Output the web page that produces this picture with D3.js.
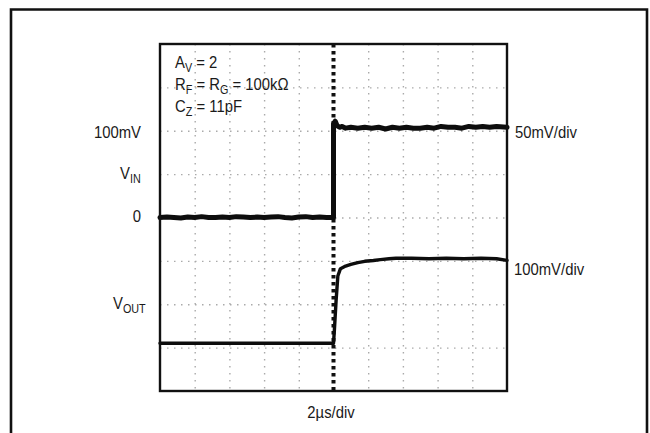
<!DOCTYPE html>
<html>
<head>
<meta charset="utf-8">
<script src="https://cdn.jsdelivr.net/npm/d3@7"></script>
<style>
  html, body { margin: 0; padding: 0; background: #fff; }
  svg { display: block; }
  text { font-family: "Liberation Sans Narrow", "Arial Narrow", "Liberation Sans", sans-serif; fill: #1a1a1a; }
  .grid line { stroke: #aaa; stroke-width: 1.4; stroke-dasharray: 1.5 5.5; }
  .grid path { display: none; }
</style>
</head>
<body>
<svg id="chart"></svg>
<script>
// Scope capture: step response, VIN (50mV/div) and VOUT (100mV/div), 2us/div.

const W = 650, H = 433;
const P = { left: 160, top: 44, width: 347, height: 347 };

// time axis in microseconds, 10 divisions of 2us, trigger at 0
const X_DOMAIN = [-10, 10];
const X_GRID = [-8, -6, -4, -2, 2, 4, 6, 8];
const Y_DIVS = 8;
const Y_GRID = [1, 2, 3, 4, 5, 6, 7];

// channel offsets (in divisions from bottom) and scale (mV per div)
const VIN_ZERO_DIV = 4, VIN_MV_DIV = 50;
const VOUT_ZERO_DIV = 1.1, VOUT_MV_DIV = 100;

// VIN trace (us, mV)
const VIN_T  = [-10, -9.6, -9.2, -8.8, -8.4, -8, -7.6, -7.2, -6.8, -6.4, -6, -5.6, -5.2, -4.8, -4.4, -4, -3.6, -3.2, -2.8, -2.4, -2, -1.6, -1.2, -0.8, -0.4, 0,
                0, 0.1, 0.2, 0.35, 0.5, 0.7, 1, 1.4, 1.8, 2.2, 2.6, 3, 3.4, 3.8, 4.2, 4.6, 5, 5.4, 5.8, 6.2, 6.6, 7, 7.4, 7.8, 8.2, 8.6, 9, 9.4, 10];
const VIN_MV = [0, 0.5, 0, -0.5, 0.5, 0, 1, 0, 0, 0.5, 0, 1, 0.5, 0, 0.5, 0, 0.5, 1, 0, -0.5, 0.5, 1, 0, 0.5, 0, 0,
                108, 111, 106, 104, 105, 103, 104, 103, 104, 103, 104, 102, 104, 103, 104, 103, 103, 104, 103, 105, 104, 104, 103, 105, 104, 105, 104, 105, 104];

// VOUT trace (us, mV)
const VOUT_T  = [-10, -6, -2, 0, 0.05, 0.15, 0.25, 0.4, 0.7, 1, 1.4, 1.8, 2.3, 2.7, 3.2, 3.6, 4.5, 5.5, 6.5, 7.5, 8.5, 9.4, 10];
const VOUT_MV = [0, 0, 0, 0, 30, 99, 155, 172, 178, 182, 186, 189, 191, 193, 195, 196, 196, 195, 196, 195, 196, 195, 191];

const svg = d3.select("#chart").attr("width", W).attr("height", H);

// outer frame (open at the bottom)
svg.append("path")
  .attr("d", `M11,${H + 5} L11,9.5 L647,9.5 L647,${H + 5}`)
  .attr("fill", "none").attr("stroke", "#111").attr("stroke-width", 2.6);

const g = svg.append("g").attr("transform", `translate(${P.left},${P.top})`);

const x = d3.scaleLinear().domain(X_DOMAIN).range([0, P.width]);
const yDiv = d3.scaleLinear().domain([0, Y_DIVS]).range([P.height, 0]);

// dotted graticule
g.append("g").attr("class", "grid")
  .call(d3.axisBottom(x).tickValues(X_GRID).tickSize(P.height).tickFormat(""));
g.append("g").attr("class", "grid")
  .call(d3.axisLeft(yDiv).tickValues(Y_GRID).tickSize(-P.width).tickFormat(""));

// heavy trigger marker at t = 0
g.append("line")
  .attr("x1", x(0)).attr("x2", x(0)).attr("y1", 0).attr("y2", P.height)
  .attr("stroke", "#111").attr("stroke-width", 4).attr("stroke-dasharray", "3.5 3.5");

// traces
const vinLine = d3.line()
  .x((d, i) => x(VIN_T[i]))
  .y(d => yDiv(VIN_ZERO_DIV + d / VIN_MV_DIV));
g.append("path")
  .datum(VIN_MV)
  .attr("fill", "none").attr("stroke", "#0d0d0d").attr("stroke-width", 5)
  .attr("stroke-linejoin", "round").attr("stroke-linecap", "round")
  .attr("d", vinLine);

const voutLine = d3.line()
  .x((d, i) => x(VOUT_T[i]))
  .y(d => yDiv(VOUT_ZERO_DIV + d / VOUT_MV_DIV));
g.append("path")
  .datum(VOUT_MV)
  .attr("fill", "none").attr("stroke", "#0d0d0d").attr("stroke-width", 3.4)
  .attr("stroke-linejoin", "round").attr("stroke-linecap", "round")
  .attr("d", voutLine);

// plot frame
g.append("rect")
  .attr("width", P.width).attr("height", P.height)
  .attr("fill", "none").attr("stroke", "#111").attr("stroke-width", 2.4);

// labels: condensed look by squeezing a regular sans horizontally
const FS = 16.5, SUB = 12, SQUEEZE = 0.9;

// parts: array of [text, isSubscript]
function label(xp, yp, parts, anchor) {
  const t = svg.append("g")
    .attr("transform", `translate(${xp},${yp}) scale(${SQUEEZE},1)`)
    .append("text")
    .attr("font-size", FS)
    .attr("text-anchor", anchor || "start");
  let low = false;
  parts.forEach(([s, sub]) => {
    const sp = t.append("tspan").text(s);
    if (sub && !low) { sp.attr("font-size", SUB).attr("dy", 3.5); low = true; }
    else if (sub) { sp.attr("font-size", SUB); }
    else if (low) { sp.attr("dy", -3.5); low = false; }
  });
  return t;
}

// component notes
label(175, 68, [["A"], ["V", 1], [" = 2"]]);
label(175, 90, [["R"], ["F", 1], [" = R"], ["G", 1], [" = 100k\u03A9"]]);
label(175, 112, [["C"], ["Z", 1], [" = 11pF"]]);

// left side
label(141, 138, [["100mV"]], "end");
label(120, 179, [["V"], ["IN", 1]]);
label(141, 222, [["0"]], "end");
label(113, 309, [["V"], ["OUT", 1]]);

// right side
label(515, 138, [["50mV/div"]]);
label(514, 275, [["100mV/div"]]);

// bottom
label(331, 418, [["2\u00B5s/div"]], "middle");
</script>
</body>
</html>
